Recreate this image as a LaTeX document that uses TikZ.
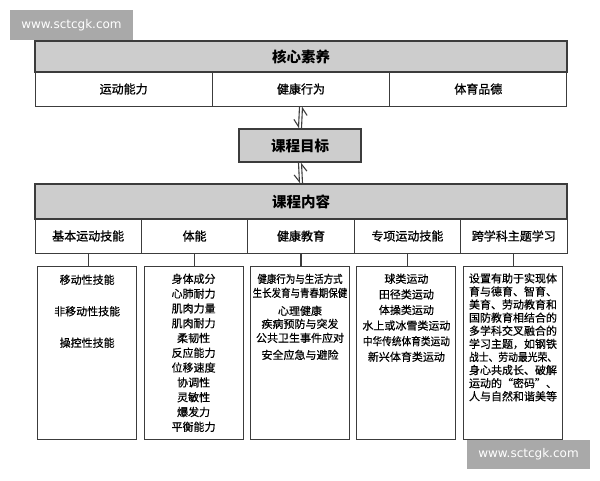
\documentclass[tikz,border=0pt]{standalone}
\usepackage{fontspec}
\usepackage{graphicx}
\setmainfont{Noto Sans CJK SC}
\newfontfamily\rowfont{Noto Sans CJK SC}[FakeBold=1]
\newfontfamily\itemfont{Noto Sans CJK SC}[FakeBold=0.5]
\newfontfamily\wmfont{DejaVu Sans}
\usetikzlibrary{positioning,arrows.meta}
\definecolor{headgray}{RGB}{205,205,205}
\definecolor{linegray}{RGB}{60,60,60}
\definecolor{wmgray}{RGB}{169,169,169}

\tikzset{
  head/.style={draw=linegray, line width=1.3pt, fill=headgray, minimum width=532pt, inner sep=0pt, font=\fontsize{14.5}{16}\selectfont\bfseries},
  cell/.style={draw=linegray, line width=1pt, minimum height=34pt, inner sep=0pt, font=\rowfont\fontsize{12}{14}\selectfont},
  listbox/.style={draw=linegray, line width=1pt, minimum width=99pt, minimum height=173pt, inner sep=0pt},
  listtext/.style={inner sep=0pt, align=center, font=\itemfont\fontsize{11}{14.8}\selectfont},
  link/.style={draw=linegray, line width=1.1pt},
  harpoon/.style={draw=linegray, line width=1.1pt},
  wmark/.style={fill=wmgray, text=white, inner sep=0pt, minimum width=123pt, font=\wmfont\fontsize{12}{14}\selectfont}
}

\begin{document}
\begin{tikzpicture}[x=1pt,y=-1pt]
  \useasboundingbox (0,0) rectangle (600,480);

  % Core literacy
  \node[head, minimum height=31pt] (core) at (301,56.5) {核心素养};
  \foreach \txt [count=\i] in {运动能力,健康行为,体育品德}
    \node[cell, minimum width=177.33pt] (k\i) at ({35+177.33*(\i-0.5)},89) {\txt};

  % Course goal
  \node[head, minimum width=122pt, minimum height=33pt] (goal) at (300,145.5) {课程目标};

  % Course content
  \node[head, minimum height=35pt] (content) at (301,201.5) {课程内容};
  \foreach \txt [count=\i] in {基本运动技能,体能,健康教育,专项运动技能,跨学科主题学习}
    \node[cell, minimum width=106.4pt] (c\i) at ({35+106.4*(\i-0.5)},236) {\txt};

  % Harpoons between the levels
  \draw[harpoon, -{Straight Barb[right, length=7pt, width=10pt]}] ([xshift=-1.5pt]k2.south) -- ([xshift=-1.5pt]goal.north);
  \draw[harpoon, -{Straight Barb[right, length=7pt, width=10pt]}] ([xshift=1.5pt]goal.north) -- ([xshift=1.5pt]k2.south);
  \draw[harpoon, -{Straight Barb[right, length=7pt, width=10pt]}] ([xshift=-1.5pt]goal.south) -- ([xshift=-1.5pt]content.north);
  \draw[harpoon, -{Straight Barb[right, length=7pt, width=10pt]}] ([xshift=1.5pt]content.north) -- ([xshift=1.5pt]goal.south);

  % Item boxes
  \foreach \i in {1,...,5} {
    \node[listbox] (b\i) at ({35+106.4*(\i-0.5)-1},352.5) {};
    \draw[link] (c\i.south) -- (c\i.south |- b\i.north);
  }

  \node[listtext, font=\itemfont\fontsize{11}{31.5}\selectfont, below=9pt of b1.north] (t1)
    {移动性技能\\非移动性技能\\操控性技能};
  \node[listtext, below=8pt of b2.north] (t2)
    {身体成分\\心肺耐力\\肌肉力量\\肌肉耐力\\柔韧性\\反应能力\\位移速度\\协调性\\灵敏性\\爆发力\\平衡能力};
  \node[listtext, font=\itemfont\fontsize{11}{14}\selectfont, below=8pt of b3.north] (t3)
    {\scalebox{0.86}[1]{健康行为与生活方式}\\\scalebox{0.86}[1]{生长发育与青春期保健}\\[4pt]心理健康\\[-1pt]疾病预防与突发\\公共卫生事件应对\\[3pt]安全应急与避险};
  \node[listtext, font=\itemfont\fontsize{11}{15.6}\selectfont, below=8pt of b4.north] (t4)
    {球类运动\\田径类运动\\体操类运动\\水上或冰雪类运动\\\scalebox{0.88}[1]{中华传统体育类运动}\\新兴体育类运动};
  \node[listtext, align=left, font=\itemfont\fontsize{11}{13.1}\selectfont, anchor=north west] (t5)
    at ([xshift=6pt, yshift=-7.5pt]b5.north west)
    {设置有助于实现体\\育与德育、智育、\\美育、劳动教育和\\国防教育相结合的\\多学科交叉融合的\\学习主题，如钢铁\\\scalebox{0.89}[1]{战士、劳动最光荣、}\\身心共成长、破解\\运动的“密码”、\\人与自然和谐美等};

  % Watermarks
  \node[wmark, minimum height=30pt] (wm1) at (71.5,25) {www.sctcgk.com};
  \node[wmark, minimum height=29pt] (wm2) at (528.5,454.5) {www.sctcgk.com};
\end{tikzpicture}
\end{document}
